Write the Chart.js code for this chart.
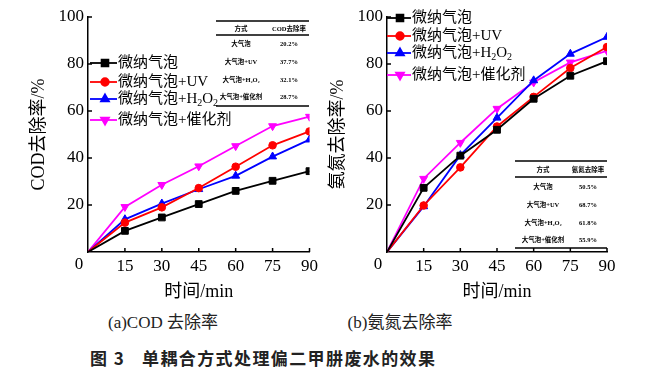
<!DOCTYPE html>
<html>
<head>
<meta charset="utf-8">
<script src="https://cdn.jsdelivr.net/npm/chart.js@4"></script>
<style>
  body { margin: 0; background: #fff; width: 645px; height: 376px; overflow: hidden; position: relative; }
  .wrap { position: absolute; top: 0; height: 305px; }
  #w1 { left: 0; width: 322px; }
  #w2 { left: 322px; width: 323px; }
  .sub { position: absolute; top: 311px; width: 200px; text-align: center; line-height: 24px;
         font-size: 17px; font-family: 'Liberation Serif', 'Noto Sans CJK SC', serif; color: #222; }
  .cap { position: absolute; top: 346px; line-height: 24px; font-size: 17px; font-weight: bold;
         font-family: 'Noto Sans CJK SC', sans-serif; color: #222; white-space: pre; letter-spacing: 1.4px; }
</style>
</head>
<body>
<div class="wrap" id="w1"><canvas id="c1"></canvas></div>
<div class="wrap" id="w2"><canvas id="c2"></canvas></div>
<div class="sub" style="left:63px">(a)COD 去除率</div>
<div class="sub" style="left:300px">(b)氨氮去除率</div>
<div class="cap" style="left:90px">图 3</div>
<div class="cap" style="left:142px">单耦合方式处理偏二甲肼废水的效果</div>
<script>
// data
const minutes = [0, 15, 30, 45, 60, 75, 90];
const seriesNames = ["微纳气泡", "微纳气泡+UV", "微纳气泡+H₂O₂", "微纳气泡+催化剂"];

const codBubble   = [0, 9.0, 14.7, 20.4, 26.0, 30.3, 34.4];
const codUV       = [0, 12.5, 19.0, 27.2, 36.3, 45.4, 51.3];
const codH2O2     = [0, 13.9, 20.6, 26.7, 32.4, 40.6, 47.8];
const codCatalyst = [0, 19.2, 28.6, 36.5, 45.1, 53.6, 57.6];

const nh3Bubble   = [0, 27.3, 41.0, 52.0, 65.2, 75.0, 81.2];
const nh3UV       = [0, 19.8, 36.0, 53.4, 66.0, 78.3, 87.2];
const nh3H2O2     = [0, 19.4, 41.2, 57.1, 73.0, 84.3, 91.5];
const nh3Catalyst = [0, 31.2, 46.5, 61.0, 72.2, 80.7, 85.6];

const yTicks = [0, 20, 40, 60, 80, 100];

const tableMethods = ["大气泡", "大气泡+UV", "大气泡+H₂O₂", "大气泡+催化剂"];
const codHeader = ["方式", "COD去除率"];
const codRates = ["20.2%", "37.7%", "32.1%", "28.7%"];
const nh3Header = ["方式", "氨氮去除率"];
const nh3Rates = ["50.5%", "68.7%", "61.8%", "55.9%"];

const colors = ["#000000", "#ff0000", "#0000ff", "#ff00ff"];
const shapes = ["rect", "circle", "triangle", "triangle"];
const rotations = [0, 0, 0, 180];
const radii = [4.8, 3.8, 4.6, 4.6];

const FONT = "'Liberation Serif', 'Noto Sans CJK SC', serif";

function drawRich(ctx, text, x, y, size) {
  // draws text, turning ₂ into a lowered small 2
  let cx = x;
  text.split(/(₂)/).forEach(function (p) {
    if (!p) return;
    if (p === "₂") {
      ctx.font = Math.round(size * 0.65) + "px " + FONT;
      ctx.fillText("2", cx, y + size * 0.3);
      cx += ctx.measureText("2").width;
    } else {
      ctx.font = size + "px " + FONT;
      ctx.fillText(p, cx, y);
      cx += ctx.measureText(p).width;
    }
  });
}

function decorPlugin(cfg) {
  return {
    id: "decor",
    afterDraw: function (chart) {
      const ctx = chart.ctx;
      const xs = chart.scales.x, ys = chart.scales.y;
      const area = chart.chartArea;
      ctx.save();
      // inward tick marks
      ctx.strokeStyle = "#000";
      ctx.lineWidth = 1.5;
      yTicks.slice(1).forEach(function (v) {
        const py = ys.getPixelForValue(v);
        ctx.beginPath(); ctx.moveTo(area.left, py); ctx.lineTo(area.left + 4, py); ctx.stroke();
      });
      minutes.slice(1).forEach(function (v) {
        const px = xs.getPixelForValue(v);
        ctx.beginPath(); ctx.moveTo(px, area.bottom); ctx.lineTo(px, area.bottom - 4); ctx.stroke();
      });
      // shared origin label
      ctx.fillStyle = "#000";
      ctx.font = "17px " + FONT;
      ctx.textAlign = "center";
      ctx.textBaseline = "middle";
      ctx.fillText("0", area.left - 9, 265);

      // legend
      const lg = cfg.legend;
      chart.data.datasets.forEach(function (ds, i) {
        const y = lg.rows[i];
        ctx.strokeStyle = ds.borderColor;
        ctx.fillStyle = ds.borderColor;
        ctx.lineWidth = 1.8;
        ctx.beginPath(); ctx.moveTo(lg.x0, y); ctx.lineTo(lg.x1, y); ctx.stroke();
        Chart.helpers.drawPoint(ctx, {
          pointStyle: shapes[i], radius: radii[i], rotation: rotations[i], borderWidth: 1
        }, lg.markX, y);
        ctx.fillStyle = "#000";
        ctx.textAlign = "left";
        ctx.textBaseline = "middle";
        drawRich(ctx, ds.label, lg.textX, y, 15);
      });

      // inset table
      const t = cfg.table;
      ctx.strokeStyle = "#000";
      ctx.lineWidth = 1.6;
      t.lines.forEach(function (ly) {
        ctx.beginPath(); ctx.moveTo(t.x0, ly); ctx.lineTo(t.x1, ly); ctx.stroke();
      });
      ctx.fillStyle = "#000";
      ctx.textAlign = "center";
      ctx.textBaseline = "middle";
      ctx.font = "bold 6.5px " + FONT;
      ctx.fillText(t.header[0], t.c0, t.headY);
      ctx.fillText(t.header[1], t.c1, t.headY);
      tableMethods.forEach(function (m, i) {
        ctx.fillText(m, t.c0, t.rows[i]);
        ctx.fillText(t.values[i], t.c1, t.rows[i]);
      });
      ctx.restore();
    }
  };
}

function toPoints(vals) {
  return vals.map(function (v, i) { return { x: minutes[i], y: v }; });
}

function makeChart(id, series, cfg) {
  const datasets = series.map(function (vals, i) {
    return {
      label: seriesNames[i],
      data: toPoints(vals),
      borderColor: colors[i],
      backgroundColor: colors[i],
      borderWidth: 1.8,
      pointStyle: shapes[i],
      rotation: rotations[i],
      pointRadius: function (c) { return c.dataIndex === 0 ? 0 : radii[i]; },
      pointBorderWidth: 1,
      tension: 0
    };
  });

  return new Chart(document.getElementById(id), {
    type: "line",
    data: { datasets: datasets },
    options: {
      responsive: true,
      maintainAspectRatio: false,
      animation: false,
      layout: { padding: { top: 17, right: cfg.padRight, left: 0, bottom: 0 } },
      plugins: { legend: { display: false }, tooltip: { enabled: false } },
      scales: {
        x: {
          type: "linear",
          min: 0, max: 90,
          grid: { display: false, drawTicks: false },
          border: { display: true, color: "#000", width: 1.5 },
          ticks: {
            stepSize: 15, padding: 4, color: "#000",
            font: { family: FONT, size: 17 },
            callback: function (v) { return v === 0 ? "" : v; }
          },
          title: {
            display: true, text: "时间/min", color: "#000",
            font: { family: FONT, size: 18 }, padding: { top: 0, bottom: 2 }
          },
          afterFit: function (s) { s.height = 53; }
        },
        y: {
          min: 0, max: 100,
          grid: { display: false, drawTicks: false },
          border: { display: true, color: "#000", width: 1.5 },
          ticks: {
            stepSize: 20, padding: 4, color: "#000",
            font: { family: FONT, size: 17 },
            callback: function (v) { return v === 0 ? "" : v; }
          },
          title: {
            display: true, text: cfg.yTitle, color: "#000",
            font: { family: FONT, size: 18 }, padding: { top: cfg.titlePad, bottom: 0 }
          },
          afterFit: function (s) { s.width = cfg.yWidth; }
        }
      }
    },
    plugins: [decorPlugin(cfg)]
  });
}

makeChart("c1", [codBubble, codUV, codH2O2, codCatalyst], {
  yTitle: "COD去除率/%", yWidth: 88, padRight: 10, titlePad: 28,
  legend: { x0: 90, x1: 117, markX: 105, textX: 118, rows: [63, 82, 99, 120] },
  table: {
    x0: 216, x1: 309, lines: [21, 35, 106], header: codHeader, values: codRates,
    c0: 241, c1: 289, headY: 29, rows: [44, 62, 80, 97]
  }
});

makeChart("c2", [nh3Bubble, nh3UV, nh3H2O2, nh3Catalyst], {
  yTitle: "氨氮去除率/%", yWidth: 65, padRight: 38, titlePad: 5,
  legend: { x0: 65, x1: 89, markX: 78, textX: 90, rows: [18, 36, 53, 75] },
  table: {
    x0: 193, x1: 285, lines: [161, 177, 248], header: nh3Header, values: nh3Rates,
    c0: 221, c1: 266, headY: 170, rows: [187, 205, 223, 240]
  }
});
</script>
</body>
</html>
